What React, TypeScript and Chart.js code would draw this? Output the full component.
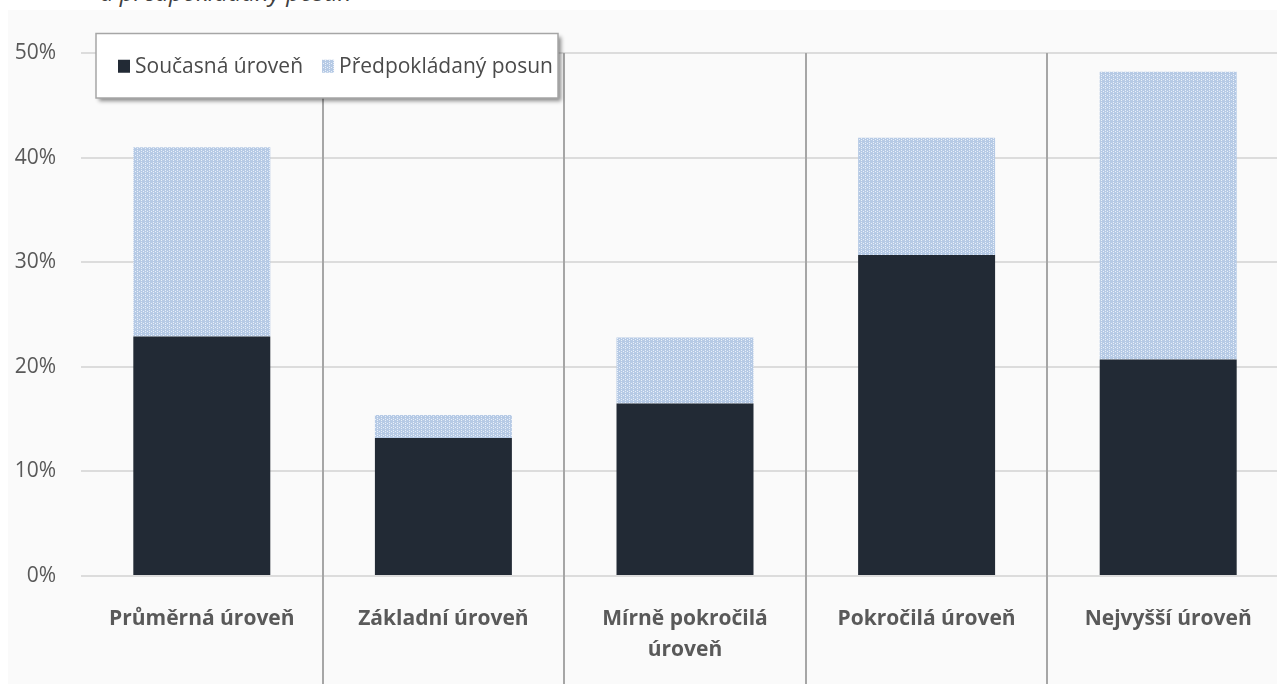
import React, { useEffect, useRef } from "react";
import { Chart, registerables } from "chart.js";

Chart.register(...registerables);

const categories: (string | string[])[] = [
  "Průměrná úroveň",
  "Základní úroveň",
  ["Mírně pokročilá", "úroveň"],
  "Pokročilá úroveň",
  "Nejvyšší úroveň",
];
const seriesNames = ["Současná úroveň", "Předpokládaný posun"];
const currentLevel = [22.9, 13.2, 16.5, 30.7, 20.7];
const expectedShift = [18.1, 2.2, 6.3, 11.2, 27.5];
const yMax = 50;
const yStep = 10;
const titleText = "a předpokládaný posun";

const FONT = "'Open Sans', 'Noto Sans', sans-serif";
const DARK = "#222a35";

function makePattern(): CanvasPattern | string {
  const c = document.createElement("canvas");
  c.width = 4;
  c.height = 4;
  const g = c.getContext("2d");
  if (!g) return "#c3d4ea";
  g.fillStyle = "#b6cae5";
  g.fillRect(0, 0, 4, 4);
  g.fillStyle = "#e8eff9";
  g.fillRect(1, 0, 1, 1);
  g.fillRect(1, 2, 1, 1);
  g.fillRect(3, 1, 1, 1);
  const p = g.createPattern(c, "repeat");
  return p || "#c3d4ea";
}

const separatorPlugin = {
  id: "separators",
  afterDatasetsDraw(chart: any) {
    const x = chart.scales.x;
    const { top } = chart.chartArea;
    const ctx = chart.ctx;
    ctx.save();
    ctx.strokeStyle = "#a6a6a6";
    ctx.lineWidth = 2;
    for (let i = 1; i < categories.length; i++) {
      const px = Math.round((x.getPixelForValue(i - 1) + x.getPixelForValue(i)) / 2);
      ctx.beginPath();
      ctx.moveTo(px, top);
      ctx.lineTo(px, chart.height);
      ctx.stroke();
    }
    ctx.restore();
  },
};

const floatingLegendPlugin = {
  id: "floatingLegend",
  afterDraw(chart: any) {
    const ctx = chart.ctx;
    const area = chart.chartArea;
    const bx = area.left + 15;
    const by = area.top - 19.5;
    const bw = 462;
    const bh = 64.5;
    ctx.save();
    ctx.shadowColor = "rgba(0,0,0,0.45)";
    ctx.shadowBlur = 4;
    ctx.shadowOffsetX = 3;
    ctx.shadowOffsetY = 3;
    ctx.fillStyle = "#ffffff";
    ctx.fillRect(bx, by, bw, bh);
    ctx.restore();
    ctx.save();
    ctx.strokeStyle = "#a6a6a6";
    ctx.lineWidth = 1.5;
    ctx.strokeRect(bx, by, bw, bh);
    ctx.font = `21px ${FONT}`;
    ctx.textBaseline = "middle";
    let cx = bx + 22;
    const cy = by + bh / 2;
    chart.data.datasets.forEach((ds: any) => {
      ctx.fillStyle = ds.backgroundColor;
      ctx.fillRect(cx, cy - 6, 12, 13);
      cx += 17;
      ctx.fillStyle = "#4a4a4a";
      ctx.fillText(ds.label, cx, cy + 1);
      cx += ctx.measureText(ds.label).width + 19;
    });
    ctx.restore();
  },
};

export default function App() {
  const ref = useRef<HTMLCanvasElement | null>(null);

  useEffect(() => {
    if (!ref.current) return;
    const pattern = makePattern();
    const chart = new Chart(ref.current, {
      type: "bar",
      data: {
        labels: categories as any,
        datasets: [
          {
            label: seriesNames[0],
            data: currentLevel,
            backgroundColor: DARK,
            barPercentage: 0.567,
            categoryPercentage: 1,
          },
          {
            label: seriesNames[1],
            data: expectedShift,
            backgroundColor: pattern as any,
            barPercentage: 0.567,
            categoryPercentage: 1,
          },
        ],
      },
      options: {
        responsive: false,
        animation: false,
        layout: { padding: { top: 43, left: 0, right: 0, bottom: 0 } },
        plugins: {
          legend: { display: false },
          tooltip: { enabled: false },
        },
        scales: {
          x: {
            stacked: true,
            grid: { display: false },
            border: { display: false },
            ticks: {
              color: "#595959",
              font: { family: FONT, size: 21, weight: "bold", lineHeight: 1.45 },
              padding: 20,
              maxRotation: 0,
              autoSkip: false,
            },
            afterFit(scale: any) {
              scale.height = 108;
            },
          },
          y: {
            stacked: true,
            min: 0,
            max: yMax,
            ticks: {
              stepSize: yStep,
              color: "#595959",
              font: { family: FONT, size: 21 },
              padding: 25,
              callback: (v: any) => `${v}%`,
            },
            grid: { color: "#dcdcdc", lineWidth: 2, drawTicks: false },
            border: { display: false },
            afterFit(scale: any) {
              scale.width = 73;
            },
          },
        },
      },
      plugins: [separatorPlugin, floatingLegendPlugin],
    });
    return () => chart.destroy();
  }, []);

  return (
    <div
      style={{
        position: "fixed",
        left: 0,
        top: 0,
        width: 1277,
        height: 684,
        overflow: "hidden",
        background: "#ffffff",
      }}
    >
      <div
        style={{
          position: "absolute",
          left: 100,
          top: 0,
          height: 9,
          overflow: "hidden",
          whiteSpace: "nowrap",
        }}
      >
        <div
          style={{
            marginTop: -21,
            lineHeight: "26px",
            fontFamily: FONT,
            fontStyle: "italic",
            fontSize: 24,
            color: "#404040",
          }}
        >
          {titleText}
        </div>
      </div>
      <div
        style={{
          position: "absolute",
          left: 8,
          top: 10,
          width: 1300,
          height: 674,
          background: "#fafafa",
        }}
      >
        <canvas
          ref={ref}
          width={1281}
          height={674}
          style={{ position: "absolute", left: 0, top: 0, width: 1281, height: 674 }}
        />
      </div>
    </div>
  );
}
